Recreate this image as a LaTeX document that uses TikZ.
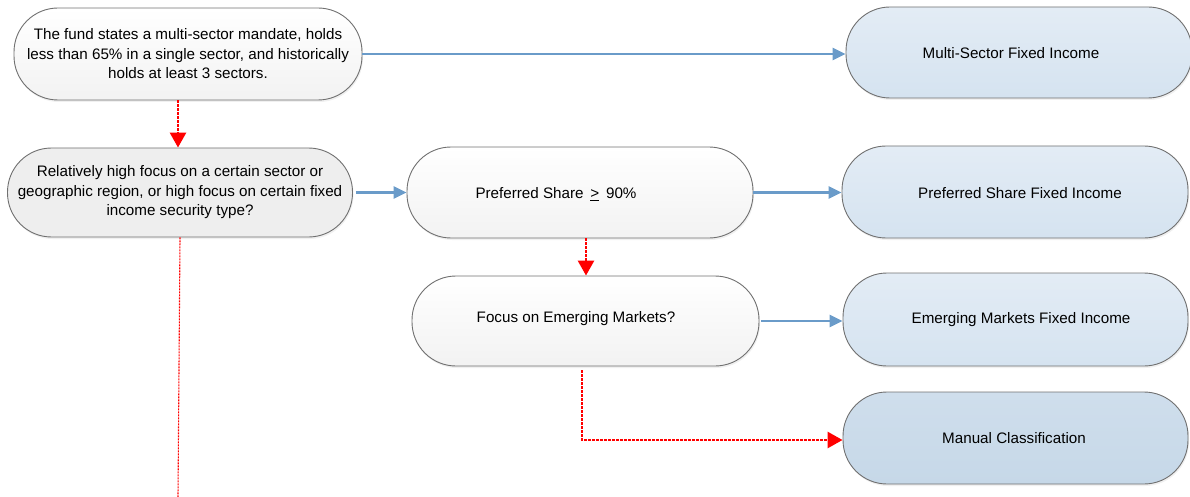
\documentclass[tikz,border=0pt]{standalone}
\usepackage{fontspec}
\setmainfont{Liberation Sans}
\usetikzlibrary{arrows.meta,shadows}
\definecolor{edgegray}{HTML}{707070}
\definecolor{bluearrow}{HTML}{6A9BC9}
\definecolor{bluetop}{HTML}{E3ECF5}
\definecolor{bluebot}{HTML}{D5E3F0}
\definecolor{mantop}{HTML}{CFDEEC}
\definecolor{manbot}{HTML}{C6D8E8}
\definecolor{graybox}{HTML}{EEEEEE}
\newcommand{\lbl}{\fontsize{15.2}{19.5}\selectfont}
\tikzset{
  pill/.style={draw=edgegray, line width=0.9pt, rectangle, rounded corners=44pt,
    align=center, font=\lbl, inner sep=0pt,
    drop shadow={opacity=0.12, shadow xshift=1pt, shadow yshift=-2pt}},
  whitebox/.style={pill, top color=white, bottom color=white!95!black},
  greybox/.style={pill, fill=graybox},
  bluebox/.style={pill, top color=bluetop, bottom color=bluebot},
  manbox/.style={pill, top color=mantop, bottom color=manbot},
  lbltext/.style={font=\lbl, inner sep=0pt},
  yesarrow/.style={draw=bluearrow, line width=2.5pt, -{Triangle[length=13pt,width=12pt]}},
  noarrow/.style={draw=red, line width=2.8pt, dash pattern=on 2.5pt off 1.5pt, -{Triangle[length=15pt,width=16pt]}},
  noline/.style={draw=red, line width=1.1pt, dash pattern=on 2pt off 1pt}
}
\begin{document}
\begin{tikzpicture}[x=1pt,y=-1pt]
\useasboundingbox (0,0) rectangle (1190,497);
% left column
\node[whitebox, minimum width=348pt, minimum height=92pt] (q1) at (188,54)
  {The fund states a multi-sector mandate, holds\\less than 65\% in a single sector, and historically\\holds at least 3 sectors.};
\node[greybox, minimum width=345pt, minimum height=89pt] (q2) at (180,192.5)
  {Relatively high focus on a certain sector or\\geographic region, or high focus on certain fixed\\income security type?};
% middle column
\node[whitebox, minimum width=346pt, minimum height=91pt] (q3) at (580,192.5) {};
\node[lbltext] (t3) at (556,194) {Preferred Share \,\underline{>}\, 90\%};
\node[whitebox, minimum width=347pt, minimum height=90pt] (q4) at (585.5,321) {};
\node[lbltext] (t4) at (576,319) {Focus on Emerging Markets?};
% right column
\node[bluebox, minimum width=346pt, minimum height=91pt] (r1) at (1019,52.5) {};
\node[lbltext] (s1) at (1011,53) {Multi-Sector Fixed Income};
\node[bluebox, minimum width=346pt, minimum height=92pt] (r2) at (1015,192) {};
\node[lbltext] (s2) at (1020,193) {Preferred Share Fixed Income};
\node[bluebox, minimum width=345pt, minimum height=93pt] (r3) at (1015.5,319.5) {};
\node[lbltext] (s3) at (1021,320) {Emerging Markets Fixed Income};
\node[manbox, minimum width=345pt, minimum height=92pt] (r4) at (1015.5,438) {};
\node[lbltext] (s4) at (1014,438) {Manual Classification};
\coordinate (q2end) at (178,497);
\coordinate (bend) at (582,440);
% connectors
\draw[yesarrow] (q1.east) -- (r1.west |- q1.east);
\draw[yesarrow] ([xshift=3pt]q2.east) -- (q3.west |- q2.east);
\draw[yesarrow] (q3.east) -- (r2.west |- q3.east);
\draw[yesarrow] ([xshift=2pt]q4.east) -- (r3.west |- q4.east);
\draw[noarrow] ([xshift=-10pt]q1.south) -- ([xshift=-10pt]q1.south |- q2.north);
\draw[noarrow] ([xshift=6pt]q3.south) -- ([xshift=6pt]q3.south |- q4.north);
\draw[noarrow] ([xshift=-3.5pt,yshift=-4pt]q4.south) -- (bend) -- (r4.west |- bend);
\draw[noline] (q2.south) -- (q2end);
\end{tikzpicture}
\end{document}
